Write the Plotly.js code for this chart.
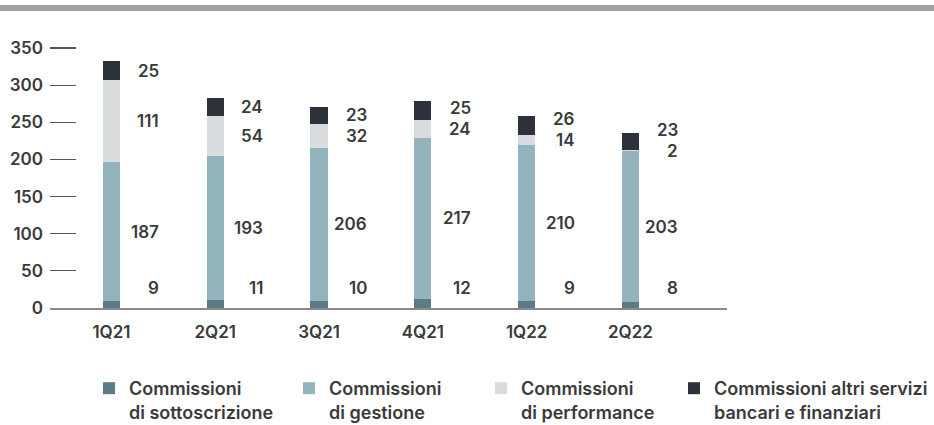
<!DOCTYPE html>
<html>
<head>
<meta charset="utf-8">
<script src="https://cdn.plot.ly/plotly-3.0.1.min.js"></script>
<style>
  html, body { margin: 0; padding: 0; background: #fff; }
  #chart { width: 934px; height: 425px; }
</style>
</head>
<body>
<div id="chart"></div>
<script>
// -- Data ---------------------------------------------------------------------
const quarters = ['1Q21', '2Q21', '3Q21', '4Q21', '1Q22', '2Q22'];
const sottoscrizione = [9, 11, 10, 12, 9, 8];
const gestione = [187, 193, 206, 217, 210, 203];
const performance = [111, 54, 32, 24, 14, 2];
const altriServizi = [25, 24, 23, 25, 26, 23];
const yTicks = [0, 50, 100, 150, 200, 250, 300, 350];

const seriesNames = [
  'Commissioni<br>di sottoscrizione',
  'Commissioni<br>di gestione',
  'Commissioni<br>di performance',
  'Commissioni altri servizi<br>bancari e finanziari',
];
const seriesColors = ['#5d7b86', '#93b4bc', '#d9dcdf', '#2e323d'];
const seriesValues = [sottoscrizione, gestione, performance, altriServizi];

// -- Geometry / style ---------------------------------------------------------
const FONT = 'Inter, "Noto Sans", sans-serif';
const TEXT = '#3a3a3a';
const W = 934, H = 425;
const Y_TOP = 354;               // a bit above 350 so the top tick is drawn
const PLOT_BOTTOM = 308;
const PLOT_H = 263;
const PX = PLOT_H / Y_TOP;       // px per unit
const MIN_GAP = 21 / PX;         // min label spacing (data units)
const MIN_BOTTOM = 27;           // lowest label height (data units)
const LEGEND_X = [89, 289, 481, 674];  // left edge of each legend entry (px)

// -- Traces (one legend per entry so each can sit where the original has it)
const legendIds = seriesNames.map((_, i) => i === 0 ? 'legend' : 'legend' + (i + 1));

const traces = seriesValues.map((vals, i) => ({
  type: 'bar',
  x: quarters,
  y: vals,
  name: seriesNames[i],
  legend: legendIds[i],
  marker: { color: seriesColors[i], line: { width: 0 } },
  width: 0.165,
  hoverinfo: 'skip',
}));

// -- Value labels: segment mid, pushed apart so they don't collide ----------
const annotations = [];
quarters.forEach((q, qi) => {
  let base = 0;
  let prev = -Infinity;
  seriesValues.forEach(vals => {
    const v = vals[qi];
    let y = base + v / 2;
    if (prev === -Infinity) y = Math.max(y, MIN_BOTTOM);
    else y = Math.max(y, prev + MIN_GAP);
    prev = y;
    base += v;
    annotations.push({
      x: q, y: y, xref: 'x', yref: 'y',
      text: String(v),
      showarrow: false,
      xanchor: 'right', yanchor: 'middle',
      xshift: 50,
      font: { family: FONT, size: 17, color: TEXT, weight: 600 },
    });
  });
});

// paper y for a pixel row (for the grey rule at the top)
const paperY = py => (PLOT_BOTTOM - py) / PLOT_H;

// -- Layout -------------------------------------------------------------------
const layout = {
  width: W,
  height: H,
  paper_bgcolor: '#fff',
  plot_bgcolor: '#fff',
  margin: { l: 50, r: 207, t: PLOT_BOTTOM - PLOT_H, b: H - PLOT_BOTTOM, autoexpand: false },
  barmode: 'stack',
  font: { family: FONT, size: 17, color: TEXT, weight: 600 },
  xaxis: {
    type: 'category',
    range: [-0.592, 5.93],
    showgrid: false,
    zeroline: false,
    showline: true,
    linecolor: '#8a8a8a',
    linewidth: 2,
    ticks: '',
    ticklabelstandoff: 8,
    tickfont: { family: FONT, size: 17, color: TEXT, weight: 600 },
    fixedrange: true,
  },
  yaxis: {
    range: [0, Y_TOP],
    tickvals: yTicks,
    showgrid: false,
    zeroline: false,
    showline: false,
    ticks: 'inside',
    ticklen: 26,
    tickwidth: 1.2,
    tickcolor: '#555',
    ticklabelstandoff: 6,
    tickfont: { family: FONT, size: 17, color: TEXT, weight: 600 },
    fixedrange: true,
  },
  showlegend: true,
  shapes: [{
    type: 'rect',
    xref: 'paper', yref: 'paper',
    x0: -50 / 677, x1: 884 / 677,
    y0: paperY(11), y1: paperY(5),
    fillcolor: '#a09f9b',
    line: { width: 0 },
  }],
  annotations: annotations,
};

legendIds.forEach((id, i) => {
  layout[id] = {
    orientation: 'h',
    xref: 'container', yref: 'container',
    x: LEGEND_X[i] / W, y: 1 - 370 / H,
    xanchor: 'left', yanchor: 'top',
    valign: 'top',
    bgcolor: 'rgba(0,0,0,0)',
    font: { family: FONT, size: 18, color: TEXT, weight: 600 },
  };
});

Plotly.newPlot('chart', traces, layout, { displayModeBar: false, staticPlot: true });
</script>
</body>
</html>
